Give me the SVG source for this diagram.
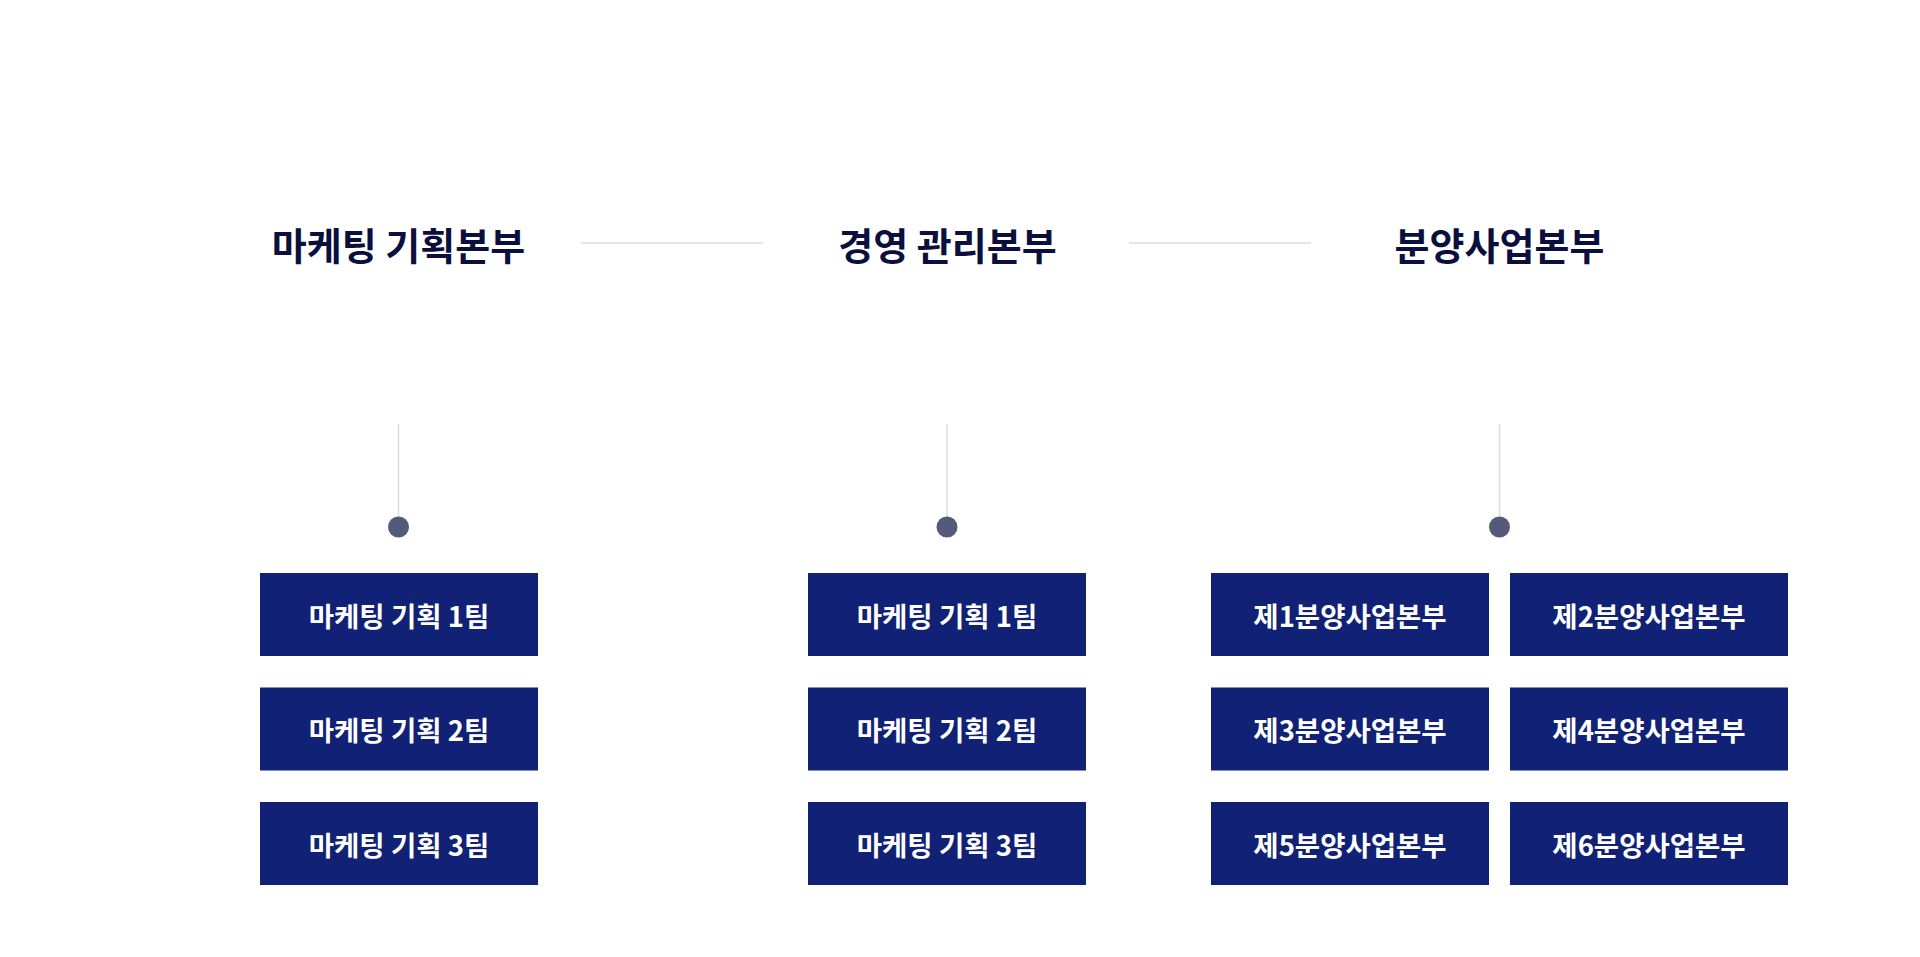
<svg xmlns="http://www.w3.org/2000/svg" width="1920" height="957" viewBox="0 0 1920 957">
<style>
.h{font-family:"Noto Sans CJK KR","Noto Sans",sans-serif;font-weight:700;font-size:38px;fill:#0b0f3d;text-anchor:middle;dominant-baseline:central}
.b{fill:#112175}
.t{font-family:"Noto Sans CJK KR","Noto Sans",sans-serif;font-weight:700;font-size:27.5px;fill:#ffffff;text-anchor:middle;dominant-baseline:central}
.ln{stroke:#dcdcdc;stroke-width:1.5;fill:none}
.dot{fill:#535a7a}
</style>
<rect width="1920" height="957" fill="#ffffff"/>
<g id="connectors">
<line class="ln" x1="581" y1="243" x2="763" y2="243"/>
<line class="ln" x1="1129" y1="243" x2="1311" y2="243"/>
<line class="ln" x1="398.5" y1="424" x2="398.5" y2="520"/>
<line class="ln" x1="947" y1="424" x2="947" y2="520"/>
<line class="ln" x1="1499.5" y1="424" x2="1499.5" y2="520"/>
<circle class="dot" cx="398.5" cy="527" r="10.5"/>
<circle class="dot" cx="947" cy="527" r="10.5"/>
<circle class="dot" cx="1499.5" cy="527" r="10.5"/>
</g>
<g id="head-marketing"><text class="h" x="398.5" y="243">마케팅 기획본부</text></g>
<g id="head-management"><text class="h" x="947.5" y="243">경영 관리본부</text></g>
<g id="head-sales"><text class="h" x="1499.5" y="243">분양사업본부</text></g>

<g id="m1"><rect class="b" x="260" y="573" width="278" height="83"/><text class="t" x="399" y="614.5">마케팅 기획 1팀</text></g>
<g id="m2"><rect class="b" x="260" y="687.5" width="278" height="83"/><text class="t" x="399" y="729">마케팅 기획 2팀</text></g>
<g id="m3"><rect class="b" x="260" y="802" width="278" height="83"/><text class="t" x="399" y="843.5">마케팅 기획 3팀</text></g>

<g id="g1"><rect class="b" x="808" y="573" width="278" height="83"/><text class="t" x="947" y="614.5">마케팅 기획 1팀</text></g>
<g id="g2"><rect class="b" x="808" y="687.5" width="278" height="83"/><text class="t" x="947" y="729">마케팅 기획 2팀</text></g>
<g id="g3"><rect class="b" x="808" y="802" width="278" height="83"/><text class="t" x="947" y="843.5">마케팅 기획 3팀</text></g>

<g id="s1"><rect class="b" x="1211" y="573" width="278" height="83"/><text class="t" x="1350" y="614.5">제1분양사업본부</text></g>
<g id="s2"><rect class="b" x="1510" y="573" width="278" height="83"/><text class="t" x="1649" y="614.5">제2분양사업본부</text></g>
<g id="s3"><rect class="b" x="1211" y="687.5" width="278" height="83"/><text class="t" x="1350" y="729">제3분양사업본부</text></g>
<g id="s4"><rect class="b" x="1510" y="687.5" width="278" height="83"/><text class="t" x="1649" y="729">제4분양사업본부</text></g>
<g id="s5"><rect class="b" x="1211" y="802" width="278" height="83"/><text class="t" x="1350" y="843.5">제5분양사업본부</text></g>
<g id="s6"><rect class="b" x="1510" y="802" width="278" height="83"/><text class="t" x="1649" y="843.5">제6분양사업본부</text></g>
</svg>
